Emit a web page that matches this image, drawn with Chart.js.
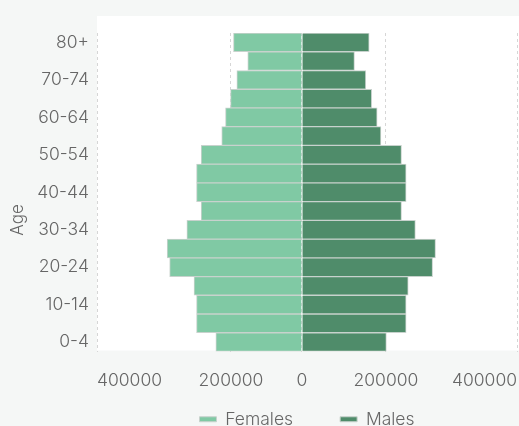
<!DOCTYPE html>
<html>
<head>
<meta charset="utf-8">
<script src="https://cdn.jsdelivr.net/npm/chart.js@4/dist/chart.umd.min.js"></script>
<style>
  html, body { margin: 0; padding: 0; background: #f5f7f6; overflow: hidden; }
  #wrap { width: 519px; height: 426px; }
  canvas { display: block; }
</style>
</head>
<body>
<div id="wrap"><canvas id="pyramid" width="519" height="426"></canvas></div>
<script>
// age groups, youngest first
var AGE_GROUPS = ['0-4', '5-9', '10-14', '15-19', '20-24', '25-29', '30-34', '35-39',
    '40-44', '45-49', '50-54', '55-59', '60-64', '65-69', '70-74', '75-79', '80+'];

var FEMALES = [205000, 251000, 251000, 257000, 315000, 321000, 274000, 240000,
    251000, 251000, 240000, 191000, 182000, 170000, 155000, 129000, 163000];

var MALES = [201000, 248000, 248000, 253000, 311000, 318000, 270000, 237000,
    248000, 248000, 237000, 188000, 179000, 166000, 152000, 125000, 160000];

// x axis: range and where the dashed lines sit, plus the labels shown there
var X_MIN = -488000;
var X_MAX = 512000;
var X_GRID = [-488000, -169000, 0, 200000, 512000];
var X_LABELS = ['400000', '200000', '0', '200000', '400000'];

var FEMALE_COLOUR = '#80c9a4';
var MALE_COLOUR = '#4f8c6a';
var TEXT_COLOUR = '#666666';
var FONT = "'Inter', 'Noto Sans', sans-serif";

// white panel behind the plot + the rotated "Age" label
var panelPlugin = {
    id: 'panel',
    beforeDraw: function (chart) {
        var a = chart.chartArea;
        var ctx = chart.ctx;
        ctx.save();
        ctx.fillStyle = '#ffffff';
        ctx.fillRect(a.left, a.top - 17, chart.width - a.left, a.bottom - a.top + 16);
        ctx.restore();
    },
    afterDraw: function (chart) {
        var ctx = chart.ctx;
        ctx.save();
        ctx.translate(18, 220);
        ctx.rotate(-Math.PI / 2);
        ctx.fillStyle = TEXT_COLOUR;
        ctx.font = '300 17px ' + FONT;
        ctx.textAlign = 'center';
        ctx.textBaseline = 'middle';
        ctx.fillText('Age', 0, 0);
        ctx.restore();
    },
};

new Chart(document.getElementById('pyramid').getContext('2d'), {
    type: 'bar',
    data: {
        labels: AGE_GROUPS,
        datasets: [{
            label: 'Females',
            data: FEMALES.map(function (v) { return -v; }),
            backgroundColor: FEMALE_COLOUR,
            borderColor: '#c8d2cd',
            borderWidth: 1,
            barPercentage: 1,
            categoryPercentage: 1,
        }, {
            label: 'Males',
            data: MALES,
            backgroundColor: MALE_COLOUR,
            borderColor: '#c8d2cd',
            borderWidth: 1,
            barPercentage: 1,
            categoryPercentage: 1,
        }],
    },
    plugins: [panelPlugin],
    options: {
        indexAxis: 'y',
        responsive: false,
        animation: false,
        layout: { padding: { top: 33, right: 2, bottom: -12, left: 0 } },
        plugins: {
            legend: {
                position: 'bottom',
                fullSize: false,
                labels: {
                    boxWidth: 17,
                    boxHeight: 5,
                    padding: 47,
                    color: TEXT_COLOUR,
                    font: { family: FONT, size: 17.5, weight: '300' },
                },
            },
            tooltip: { enabled: false },
        },
        scales: {
            x: {
                stacked: true,
                min: X_MIN,
                max: X_MAX,
                afterBuildTicks: function (scale) {
                    scale.ticks = X_GRID.map(function (v) { return { value: v }; });
                },
                afterFit: function (scale) { scale.height = 12; },
                border: { display: false, dash: [3, 3] },
                grid: {
                    color: '#d6d6d6',
                    borderDash: [3, 3],
                    drawTicks: false,
                },
                ticks: {
                    align: 'inner',
                    mirror: true,
                    padding: -40,
                    maxRotation: 0,
                    autoSkip: false,
                    color: TEXT_COLOUR,
                    font: { family: FONT, size: 17.5, weight: '300' },
                    callback: function (v, i) { return X_LABELS[i]; },
                },
            },
            y: {
                stacked: true,
                reverse: true,
                afterFit: function (scale) { scale.width = 97; },
                border: { display: false },
                grid: { display: false, drawTicks: false },
                ticks: {
                    autoSkip: false,
                    padding: 8,
                    color: TEXT_COLOUR,
                    font: { family: FONT, size: 17.5, weight: '300' },
                    callback: function (v, i) { return i % 2 === 0 ? AGE_GROUPS[i] : ''; },
                },
            },
        },
    },
});
</script>
</body>
</html>
